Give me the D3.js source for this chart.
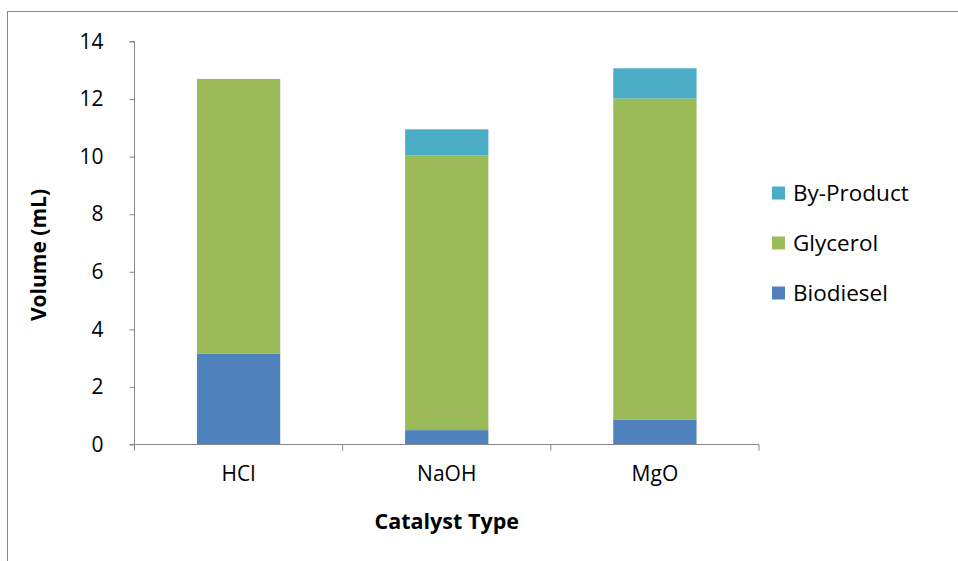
<!DOCTYPE html>
<html><head><meta charset="utf-8">
<script src="https://cdn.jsdelivr.net/npm/d3@7"></script>
<style>body{margin:0;background:#fff}svg{display:block}</style>
</head><body>
<svg id="chart" width="958" height="561"></svg>
<script>
const categories = ["HCl", "NaOH", "MgO"];
const seriesNames = ["Biodiesel", "Glycerol", "By-Product"];
const biodiesel = [3.15, 0.5, 0.87];
const glycerol = [9.55, 9.55, 11.15];
const byProduct = [0, 0.9, 1.05];
const yTicks = [0, 2, 4, 6, 8, 10, 12, 14];
const colors = ["#4F81BD", "#9BBB59", "#4BACC6"];

(function () {
const font = "'Open Sans', sans-serif";
const svg = d3.select("#chart");
svg.append("rect").attr("x", 7.5).attr("y", 11.5).attr("width", 1000).attr("height", 600)
  .attr("fill", "#fff").attr("stroke", "#868686").attr("stroke-width", 1);

const pl = 134.5, pr = 759, pt = 41.5, pb = 444.5;
const x = d3.scaleBand().domain(categories).range([pl, pr]).paddingInner(0.6).paddingOuter(0.3);
const xb = d3.scaleBand().domain(categories).range([pl, pr]);
const y = d3.scaleLinear().domain([0, 14]).range([pb, pt]);

const rows = categories.map((c, i) => ({cat: c, Biodiesel: biodiesel[i], Glycerol: glycerol[i], "By-Product": byProduct[i]}));
const stacked = d3.stack().keys(seriesNames)(rows);

svg.append("g").selectAll("g").data(stacked).join("g")
  .attr("fill", (d, i) => colors[i])
  .selectAll("rect").data(d => d.filter(p => p[1] - p[0] > 0)).join("rect")
  .attr("x", d => x(d.data.cat)).attr("width", x.bandwidth())
  .attr("y", d => y(d[1])).attr("height", d => y(d[0]) - y(d[1]));

// Y axis
const yAxis = svg.append("g").attr("transform", `translate(${pl},0)`)
  .call(d3.axisLeft(y).tickValues(yTicks).tickSize(5).tickPadding(26));
yAxis.selectAll("line, path").attr("stroke", "#868686");
yAxis.select("path").attr("d", `M-5,${pb}H0V${pt}H-5`);
yAxis.selectAll("text").attr("font-family", font).attr("font-size", 21).attr("fill", "#000");

// X axis
const xAxisG = svg.append("g").attr("transform", `translate(0,${pb})`);
xAxisG.append("line").attr("x1", pl).attr("x2", pr).attr("stroke", "#868686");
const bounds = [pl, ...categories.map(c => xb(c) + xb.bandwidth())];
xAxisG.selectAll(".tk").data(bounds).join("line").attr("class", "tk")
  .attr("x1", d => d).attr("x2", d => d).attr("y1", 0).attr("y2", 6).attr("stroke", "#868686");
xAxisG.selectAll("text").data(categories).join("text")
  .attr("x", d => xb(d) + xb.bandwidth() / 2).attr("y", 36)
  .attr("text-anchor", "middle").attr("font-family", font).attr("font-size", 21).text(d => d);

svg.append("text").attr("x", (pl + pr) / 2).attr("y", 529).attr("text-anchor", "middle")
  .attr("font-family", font).attr("font-size", 21.5).attr("font-weight", "bold").text("Catalyst Type");
svg.append("text").attr("transform", `translate(46,${(pt + pb) / 2 + 12}) rotate(-90)`)
  .attr("text-anchor", "middle").attr("font-family", font).attr("font-size", 21).attr("font-weight", "bold")
  .text("Volume (mL)");

// Legend
const legendItems = seriesNames.map((n, i) => ({name: n, color: colors[i]})).reverse();
const lg = svg.append("g").selectAll("g").data(legendItems).join("g")
  .attr("transform", (d, i) => `translate(772,${193 + i * 50})`);
lg.append("rect").attr("x", 0).attr("y", -6.5).attr("width", 13).attr("height", 13).attr("fill", d => d.color);
lg.append("text").attr("x", 21).attr("y", 8).attr("font-family", font).attr("font-size", 22.5).text(d => d.name);
})();
</script>
</body></html>
